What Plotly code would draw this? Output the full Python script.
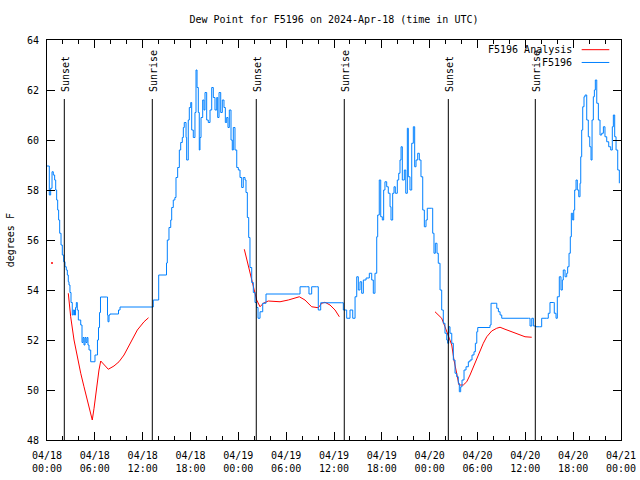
import plotly.graph_objects as go

# hours since 2024-04-18 00:00 UTC
obs_hours = [0.00, 0.13, 0.29, 0.46, 0.63, 0.79, 0.96, 1.09, 1.21, 1.34, 1.46, 1.59, 1.76, 1.92, 2.09,
             2.26, 2.42, 2.55, 2.67, 2.76, 2.88, 3.01, 3.17, 3.30, 3.45, 3.58, 3.68, 3.80, 3.93, 4.23,
             4.39, 4.52, 4.64, 4.77, 4.89, 5.02, 5.14, 5.27, 5.48, 5.90, 6.02, 6.21, 6.33, 6.46, 6.59,
             6.71, 7.49, 7.59, 7.65, 7.78, 7.90, 8.78, 8.97, 9.16, 13.17,
             13.33, 13.92, 14.01, 14.93, 14.99, 15.09, 15.30, 15.52, 15.64, 15.84, 16.04, 16.18, 16.39,
             16.60, 16.77, 16.97, 17.10, 17.22, 17.44, 17.52, 17.72, 17.85, 18.03, 18.15, 18.35, 18.56,
             18.69, 18.82, 18.98, 19.10, 19.19, 19.32, 19.53, 19.69, 19.82, 20.03, 20.23, 20.45, 20.66,
             20.86, 21.07, 21.29, 21.41, 21.58, 21.79, 21.99, 22.20, 22.37, 22.54, 22.70, 22.87, 23.08,
             23.24, 23.37, 23.58, 23.80, 24.00, 24.21, 24.42, 24.62, 24.84, 24.96, 25.13, 25.30, 25.46,
             25.68, 25.88, 26.09, 26.30, 26.47, 26.72, 27.06, 27.47, 31.52, 31.74, 32.58, 32.86, 33.20,
             33.83, 34.03, 34.33, 36.97, 37.17, 37.59,
             38.01, 38.35, 38.64, 38.85, 39.05, 39.26, 39.47, 39.68, 40.02, 40.43, 40.73, 40.93, 41.14,
             41.36, 41.48, 41.68, 41.86, 42.06, 42.23, 42.39, 42.61, 42.81, 43.03, 43.15, 43.36, 43.53,
             43.69, 43.94, 44.12, 44.28, 44.41, 44.57, 44.82, 45.00, 45.20, 45.32, 45.53, 45.75, 45.95,
             46.12, 46.29, 46.50, 46.70, 46.91, 47.13, 47.33, 47.54, 47.70, 48.25, 48.38, 48.54, 48.71,
             48.92, 49.08, 49.30, 49.51, 49.71, 49.92, 50.14, 50.26, 50.39, 50.55, 50.77, 50.97, 51.18,
             51.39, 51.59, 51.72, 51.89, 52.06, 52.31, 52.56, 52.85, 53.06, 53.31, 53.56, 53.73, 53.91,
             54.03, 55.45, 55.57, 55.70, 56.21, 56.42, 56.62, 56.83, 57.04, 60.38, 60.59, 60.81, 61.01,
             61.34, 61.75, 62.05, 62.68, 62.88, 63.09, 63.51, 63.63, 63.85, 64.01, 64.26, 64.47, 64.64,
             64.76, 64.98, 65.19, 65.31, 65.48, 65.64, 65.77, 65.94, 66.07, 66.19, 66.36, 66.52, 66.70,
             66.86, 66.95, 67.07, 67.20, 67.36, 67.49, 67.70, 67.90, 68.08, 68.24, 68.37, 68.53, 68.66,
             68.78, 68.96, 69.16, 69.37, 69.58, 69.79, 69.99, 70.21, 70.46, 70.71, 70.91, 71.04, 71.21,
             71.38, 71.59, 71.79]
obs_dewpoint = [58.96, 58.96, 57.8, 58.07, 58.73, 58.6, 58.4, 58.0, 57.6, 57.2, 56.8, 56.27, 55.8, 55.4, 55.13,
                54.93, 54.8, 54.6, 54.33, 54.2, 53.9, 53.5, 53.0, 53.2, 53.0, 53.3, 53.5, 53.2, 52.8, 52.6,
                51.9, 52.1, 51.8, 52.1, 51.9, 52.1, 51.8, 51.6, 51.13, 51.13, 51.4, 51.4, 52.0, 52.5, 53.1,
                53.72, 53.72, 53.0, 52.73, 53.0, 53.04, 53.04, 53.2, 53.32, 53.32,
                53.6, 53.6, 54.6, 54.6, 55.08, 56.0, 56.5, 56.8, 57.3, 57.6, 57.7, 58.5, 58.9,
                59.6, 59.9, 60.1, 60.5, 60.7, 60.1, 59.2, 60.8, 61.3, 61.5, 60.4, 60.1, 61.1,
                62.8, 62.1, 61.1, 59.6, 60.1, 60.9, 61.6, 61.2, 61.9, 60.8, 60.7, 61.2, 62.1,
                61.7, 61.2, 61.7, 60.9, 61.9, 61.1, 61.6, 61.3, 60.7, 60.9, 60.5, 61.2, 60.0,
                59.6, 60.5, 59.6, 58.9, 58.8, 58.5, 58.1, 58.5, 58.4, 57.9, 56.9, 56.1, 54.9,
                54.3, 53.9, 53.5, 53.3, 52.87, 53.13, 53.47, 53.84, 53.84, 54.13, 54.13, 53.84, 54.13,
                54.13, 53.2, 53.49, 53.49, 53.2, 52.87,
                53.2, 52.87, 53.73, 54.53, 54.0, 54.33, 53.87, 54.4, 54.48, 54.67, 54.4, 53.87, 54.67,
                56.13, 57.0, 58.4, 56.93, 56.8, 58.0, 58.33, 58.13, 57.87, 57.33, 56.8, 57.87, 58.13,
                57.87, 58.4, 58.67, 59.2, 59.73, 58.4, 58.8, 57.87, 60.47, 58.53, 58.0, 59.87, 60.53,
                58.93, 59.2, 59.47, 59.2, 58.53, 57.2, 56.53, 56.8, 57.27, 57.27, 56.27, 55.47, 55.87,
                55.47, 55.07, 54.0, 53.2, 52.67, 52.27, 52.0, 51.87, 52.53, 52.27, 51.87, 51.2, 50.67,
                50.53, 50.27, 49.93, 50.13, 50.4, 50.8, 50.93, 51.13, 51.2, 51.4, 51.53, 51.87, 52.33,
                52.5, 52.5, 52.6, 53.47, 53.47, 53.27, 53.13, 53.0, 52.87, 52.87, 52.56, 52.87, 52.56,
                52.53, 52.53, 52.87, 52.87, 53.07, 53.5, 53.5, 53.07, 52.87, 53.73, 54.53, 54.0, 54.4,
                54.8, 54.53, 54.67, 54.93, 55.47, 56.13, 57.07, 56.8, 57.2, 58.0, 58.4, 58.0, 57.73,
                58.27, 59.33, 60.4, 61.33, 61.73, 61.8, 60.8, 60.13, 59.73, 59.2, 60.8, 61.73, 62.0,
                62.4, 61.47, 60.8, 60.2, 60.27, 60.53, 60.13, 59.93, 59.73, 59.6, 60.53, 61.0, 60.13,
                59.6, 58.8, 58.27]

ana_hours = [0.63, None,
             2.67, 2.97, 3.39, 3.80, 4.23, 4.64, 5.06, 5.48, 5.68, 5.90, 6.18, 6.52, 6.74, 7.15, 7.69,
             8.40, 9.03, 9.66, 10.50, 11.33, 12.17, 12.73, None,
             24.75, 25.46, 25.88, 26.30, 26.72, 27.13, 27.76, 29.23, 30.27, 31.11, 31.65, 32.36, 33.20,
             34.03, 34.46, 34.87, 35.50, 36.13, 36.67, None,
             48.67, 49.51, 49.92, 50.34, 50.77, 51.05, 51.39, 51.68, 52.22, 52.65, 53.06, 53.47, 53.91,
             54.32, 54.73, 55.16, 55.78, 56.41, 56.83, 57.45, 58.29, 59.12, 59.96, 60.80]
ana_dewpoint = [55.08, None,
                53.87, 52.93, 52.0, 51.33, 50.67, 50.13, 49.6, 49.07, 48.8, 49.27, 50.0, 50.8, 51.16, 51.0,
                50.83, 50.96, 51.13, 51.4, 51.93, 52.4, 52.73, 52.89, None,
                55.63, 54.67, 54.13, 53.6, 53.33, 53.47, 53.56, 53.53, 53.6, 53.67, 53.73, 53.6, 53.33,
                53.29, 53.47, 53.51, 53.4, 53.2, 52.93, None,
                53.13, 52.87, 52.53, 52.13, 51.8, 51.2, 50.6, 50.2, 50.2, 50.33, 50.6, 50.93, 51.27,
                51.6, 51.87, 52.13, 52.36, 52.47, 52.51, 52.43, 52.33, 52.23, 52.13, 52.11]

event_hours = [2.17, 13.21, 26.25, 37.29, 50.34, 61.25]
event_names = ["Sunset", "Sunrise", "Sunset", "Sunrise", "Sunset", "Sunrise"]

tick_hours = [0, 6, 12, 18, 24, 30, 36, 42, 48, 54, 60, 66, 72]
tick_labels = ["04/18<br>00:00", "04/18<br>06:00", "04/18<br>12:00", "04/18<br>18:00",
               "04/19<br>00:00", "04/19<br>06:00", "04/19<br>12:00", "04/19<br>18:00",
               "04/20<br>00:00", "04/20<br>06:00", "04/20<br>12:00", "04/20<br>18:00",
               "04/21<br>00:00"]

RED = "#ff0000"
BLUE = "#0080ff"
FONT = "DejaVu Sans Mono"

fig = go.Figure()
fig.add_trace(go.Scatter(x=ana_hours, y=ana_dewpoint, mode="lines", name="F5196 Analysis",
                         line=dict(color=RED, width=1), connectgaps=False, showlegend=False))
# isolated analysis points (no neighbours) drawn as dots
iso_x, iso_y = [], []
for i, (h, v) in enumerate(zip(ana_hours, ana_dewpoint)):
    if h is None:
        continue
    prev_none = i == 0 or ana_hours[i - 1] is None
    next_none = i == len(ana_hours) - 1 or ana_hours[i + 1] is None
    if prev_none and next_none:
        iso_x.append(h)
        iso_y.append(v)
fig.add_trace(go.Scatter(x=iso_x, y=iso_y, mode="markers", marker=dict(color=RED, size=2),
                         showlegend=False, hoverinfo="skip"))
fig.add_trace(go.Scatter(x=obs_hours, y=obs_dewpoint, mode="lines", name="F5196",
                         line=dict(color=BLUE, width=1, shape="hv"), showlegend=False))

for h, name in zip(event_hours, event_names):
    fig.add_shape(type="line", xref="x", yref="y", x0=h, x1=h, y0=48, y1=61.64,
                  line=dict(color="black", width=1))
    fig.add_annotation(x=h, y=61.85, xref="x", yref="y", text=name, textangle=-90,
                       showarrow=False, xanchor="center", yanchor="bottom", xshift=1,
                       font=dict(family=FONT, size=10, color="black"))

# gnuplot-style legend: text left of the line sample
legend_rows = [("F5196 Analysis", RED, 0.9758), ("F5196", BLUE, 0.9438)]
for label, col, yp in legend_rows:
    fig.add_annotation(x=0.918, y=yp, xref="paper", yref="paper", text=label, showarrow=False,
                       xanchor="right", yanchor="middle", font=dict(family=FONT, size=10, color="black"))
    fig.add_shape(type="line", xref="paper", yref="paper", x0=0.9315, x1=0.9796, y0=yp, y1=yp,
                  line=dict(color=col, width=1))

# y axis title placed like gnuplot's
fig.add_annotation(x=-0.064, y=0.5, xref="paper", yref="paper", text="degrees F", textangle=-90,
                   showarrow=False, xanchor="center", yanchor="middle",
                   font=dict(family=FONT, size=10, color="black"))

fig.update_layout(
    width=640, height=480,
    margin=dict(l=47, r=19, t=40, b=40, autoexpand=False),
    paper_bgcolor="white", plot_bgcolor="white",
    font=dict(family=FONT, size=10, color="black"),
    title=dict(text="Dew Point for F5196 on 2024-Apr-18 (time in UTC)", x=(47 + 287) / 640,
               xanchor="center", y=1 - 19 / 480, yanchor="middle",
               font=dict(family=FONT, size=10, color="black")),
    showlegend=False,
)
fig.update_xaxes(range=[0, 72], tickvals=tick_hours, ticktext=tick_labels, ticks="inside", ticklen=8,
                 tickcolor="black", showline=True, linecolor="black", linewidth=1, mirror="allticks",
                 showgrid=False, zeroline=False, ticklabelstandoff=6,
                 minor=dict(dtick=2, tick0=0, ticks="inside", ticklen=4, tickcolor="black", showgrid=False),
                 tickfont=dict(family=FONT, size=10))
fig.update_yaxes(range=[48, 64], dtick=2, tick0=48, ticks="inside", ticklen=8, tickcolor="black",
                 showline=True, linecolor="black", linewidth=1, mirror="allticks", showgrid=False,
                 zeroline=False, ticklabelstandoff=5, tickfont=dict(family=FONT, size=10))

# remove the browser's default 8px page margin so the 640x480 figure fills the window exactly
fig.write_html("out.html", config={"displayModeBar": False},
               post_script="document.body.style.margin='0';document.body.style.overflow='hidden';")
